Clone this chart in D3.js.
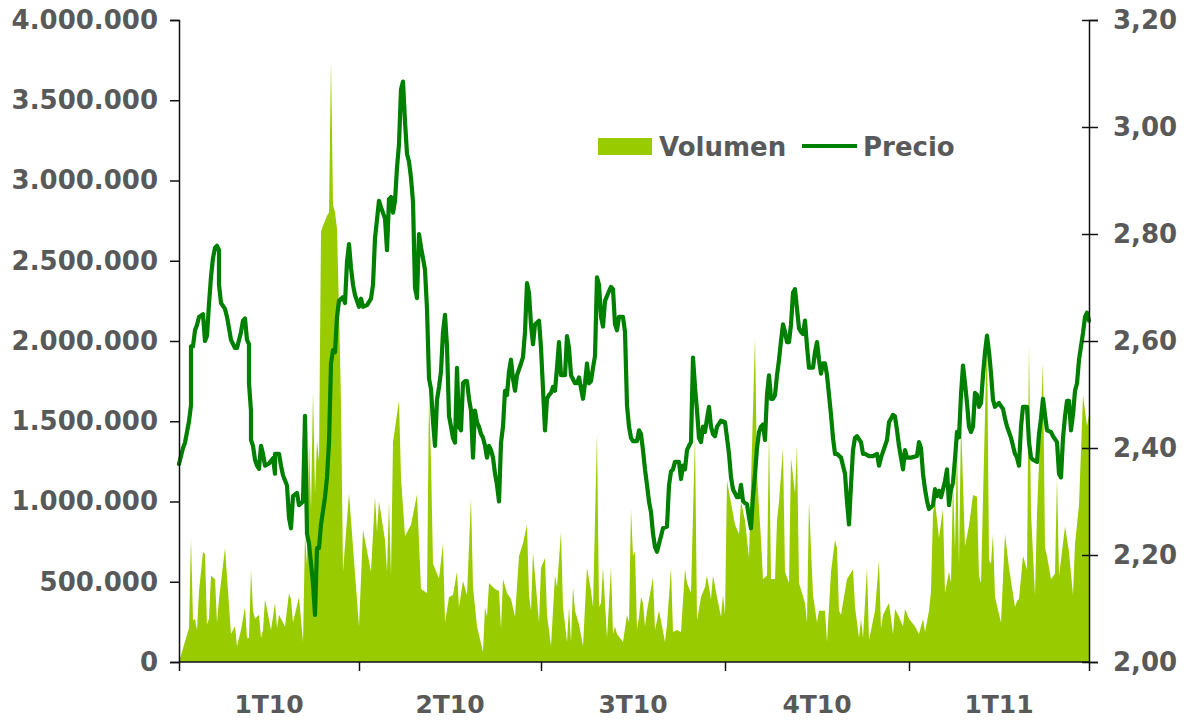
<!DOCTYPE html>
<html><head><meta charset="utf-8">
<script src="https://cdn.jsdelivr.net/npm/d3@7"></script>
<style>
html,body{margin:0;padding:0;background:#fff;}
svg{display:block;font-family:"DejaVu Sans",Verdana,sans-serif;font-weight:bold;}
</style></head>
<body>
<svg id="c" width="1186" height="720"></svg>
<script>
// Days counted from 1 Jan 2010 (calendar days); series values
const quarterLabels = ["1T10","2T10","3T10","4T10","1T11"];
const quarterStarts = [0, 90, 181, 273, 365, 455];
const volTicks = [0,500000,1000000,1500000,2000000,2500000,3000000,3500000,4000000];
const priceTicks = [2.0,2.2,2.4,2.6,2.8,3.0,3.2];
const seriesNames = ["Volumen","Precio"];

const priceDay = [0,2,3,5,6,6,7,8,9,10,12,13,14,15,16,17,18,19,20,20,21,23,24,25,26,28,29,31,32,33,34,35,35,36,36,37,38,39,40,41,42,43,45,47,48,48,50,51,52,54,55,56,57,59,60,62,
63,64,65,66,67,68,69,70,71,73,74,75,76,77,78,79,80,82,83,84,85,86,87,88,90,91,92,94,96,97,98,100,101,103,104,105,106,107,108,109,110,111,112,
113,114,115,116,117,118,119,120,121,122,123,124,125,126,127,128,129,130,131,132,133,134,135,136,137,138,139,140,141,142,143,144,145,146,147,148,149,150,151,152,153,154,155,156,157,158,159,160,161,162,163,164,165,166,167,168,169,171,
172,173,174,175,176,177,178,180,181,182,183,184,185,186,187,188,189,190,191,193,194,195,196,198,199,200,202,203,204,205,206,207,208,209,210,211,212,213,215,216,217,218,219,220,222,223,224,225,226,227,229,
230,231,232,233,234,235,236,237,238,239,240,241,242,244,245,246,247,248,250,251,252,253,254,255,256,257,258,259,260,261,262,263,264,265,266,267,268,269,271,273,274,275,276,277,279,280,281,282,283,
284,285,286,287,288,289,290,291,292,293,294,295,296,297,298,299,300,301,302,303,304,305,306,307,308,309,310,311,312,313,314,315,317,318,319,320,321,322,323,324,325,326,327,328,329,331,332,333,334,335,336,337,338,339,341,342,
343,345,347,349,350,351,353,354,355,357,358,359,360,361,362,363,364,366,369,370,371,372,373,374,375,377,378,379,380,381,382,383,384,385,386,387,388,389,390,391,392,393,394,395,396,397,398,399,
400,401,402,403,404,405,406,407,408,410,412,413,414,415,416,417,418,419,420,421,422,424,425,426,427,429,430,431,432,433,434,436,437,439,440,441,442,443,444,445,446,447,448,449,450,451,452,453,454,455];
const priceVal = [2.37,2.40,2.41,2.45,2.48,2.59,2.59,2.62,2.63,2.645,2.65,2.60,2.61,2.67,2.72,2.755,2.774,2.778,2.77,2.705,2.671,2.66,2.645,2.624,2.602,2.587,2.587,2.617,2.638,2.642,2.602,2.594,2.521,2.469,2.415,2.404,2.378,2.367,2.361,2.404,2.389,2.367,2.371,2.381,2.352,2.389,2.389,2.367,2.349,2.33,2.27,2.25,2.31,2.316,2.293,2.30,
2.46,2.24,2.221,2.184,2.147,2.088,2.213,2.213,2.257,2.308,2.345,2.411,2.558,2.583,2.579,2.645,2.675,2.682,2.671,2.748,2.781,2.737,2.705,2.686,2.664,2.679,2.664,2.667,2.679,2.705,2.792,2.862,2.85,2.829,2.77,2.865,2.869,2.84,2.862,2.924,2.968,3.07,3.085,
3.01,2.95,2.935,2.905,2.86,2.70,2.68,2.80,2.775,2.755,2.733,2.66,2.53,2.51,2.45,2.404,2.49,2.514,2.543,2.617,2.649,2.59,2.46,2.44,2.419,2.41,2.55,2.44,2.433,2.521,2.525,2.525,2.492,2.47,2.382,2.47,2.448,2.44,2.426,2.419,2.404,2.382,2.404,2.396,2.382,2.352,2.331,2.30,2.41,2.44,2.507,2.499,2.543,2.565,2.529,2.507,2.536,2.558,
2.57,2.617,2.708,2.69,2.63,2.594,2.631,2.638,2.587,2.51,2.433,2.492,2.499,2.503,2.514,2.507,2.55,2.598,2.536,2.536,2.609,2.587,2.536,2.521,2.521,2.532,2.492,2.521,2.558,2.521,2.525,2.55,2.572,2.719,2.705,2.645,2.627,2.675,2.693,2.701,2.697,2.631,2.62,2.645,2.645,2.617,2.48,2.44,2.419,2.413,2.413,
2.433,2.426,2.396,2.36,2.331,2.30,2.28,2.24,2.215,2.206,2.221,2.235,2.25,2.253,2.33,2.356,2.36,2.374,2.374,2.342,2.367,2.36,2.396,2.404,2.411,2.569,2.514,2.47,2.419,2.411,2.44,2.43,2.455,2.477,2.44,2.426,2.422,2.44,2.451,2.448,2.419,2.389,2.345,2.323,2.308,2.308,2.331,2.301,2.297,
2.295,2.27,2.25,2.31,2.35,2.40,2.43,2.44,2.444,2.415,2.50,2.536,2.492,2.492,2.499,2.536,2.565,2.60,2.631,2.617,2.598,2.598,2.631,2.69,2.697,2.66,2.624,2.617,2.613,2.638,2.59,2.55,2.55,2.579,2.598,2.565,2.539,2.558,2.558,2.536,2.499,2.462,2.419,2.389,2.389,2.382,2.367,2.352,2.30,2.257,2.331,2.396,2.419,2.422,2.411,2.389,
2.389,2.385,2.385,2.389,2.367,2.382,2.404,2.415,2.448,2.462,2.459,2.433,2.404,2.382,2.36,2.396,2.382,2.382,2.385,2.411,2.40,2.352,2.323,2.301,2.286,2.293,2.323,2.31,2.32,2.308,2.323,2.338,2.36,2.293,2.323,2.335,2.38,2.43,2.42,2.50,2.554,2.521,2.484,2.44,2.43,2.44,2.503,2.499,
2.477,2.484,2.536,2.579,2.61,2.58,2.54,2.49,2.477,2.484,2.473,2.455,2.44,2.43,2.419,2.404,2.389,2.382,2.367,2.44,2.477,2.477,2.411,2.382,2.378,2.374,2.426,2.455,2.492,2.462,2.433,2.43,2.422,2.411,2.352,2.345,2.419,2.459,2.488,2.488,2.433,2.462,2.507,2.521,2.565,2.59,2.615,2.645,2.653,2.638];

const volDay = [0,5,6,7,8,9,10,12,13,14,15,16,18,19,20,23,26,27,28,29,31,33,34,35,36,37,38,40,41,42,43,46,48,49,50,53,55,56,57,60,62,63,64,65,66,67,68,69,70,71,72,73,74,75,76,77,78,79,80,81,82,85,90,92,96,98,99,100,103,104,105,106,107,110,111,113,116,119,121,124,125,126,127,130,132,133,135,137,139,140,142,144,146,147,149,152,153,154,155,158,160,161,162,164,166,168,170,172,174,175,176,177,180,181,183,184,186,188,189,191,192,194,195,196,197,198,200,202,204,206,207,209,210,211,212,214,216,217,218,219,222,224,225,226,227,228,229,230,231,232,233,234,237,238,240,243,244,246,247,249,251,253,254,256,258,259,261,263,264,266,267,269,271,272,273,274,276,278,280,281,283,285,286,288,289,291,292,294,295,296,298,299,300,302,303,305,306,308,309,310,313,314,315,317,319,320,323,324,326,328,329,330,331,334,337,338,340,341,342,344,345,348,350,351,352,355,357,358,360,362,363,365,368,370,372,373,375,376,377,378,380,382,383,385,386,387,388,389,390,391,393,395,397,399,400,401,402,404,405,406,407,408,411,413,415,418,419,420,422,424,425,426,428,429,432,433,434,436,438,439,440,441,443,445,447,448,450,452,454,455];
const volVal = [0,212000,773000,258000,270000,199000,442000,685000,673000,234000,270000,539000,515000,246000,393000,710000,174000,199000,221000,100000,199000,343000,150000,150000,576000,319000,270000,295000,150000,199000,393000,199000,368000,212000,295000,221000,430000,390000,246000,405000,125000,790000,600000,1380000,950000,1690000,1050000,1380000,1250000,2680000,2720000,2750000,2780000,2800000,3750000,2850000,2800000,2700000,2200000,1620000,563000,1050000,221000,822000,563000,1030000,810000,1000000,760000,563000,1000000,540000,1370000,1630000,1150000,785000,855000,1045000,455000,430000,1660000,1250000,612000,520000,735000,246000,405000,417000,563000,343000,505000,417000,1020000,467000,221000,62000,343000,282000,492000,455000,442000,209000,517000,430000,393000,282000,660000,740000,857000,417000,319000,685000,246000,588000,648000,295000,100000,539000,467000,810000,343000,125000,343000,125000,467000,319000,234000,100000,588000,442000,343000,1420000,343000,368000,588000,150000,588000,174000,221000,174000,125000,295000,246000,953000,660000,690000,199000,282000,405000,368000,221000,319000,527000,199000,319000,125000,234000,588000,187000,199000,187000,576000,492000,430000,1410000,258000,405000,467000,539000,393000,539000,405000,282000,417000,295000,1130000,990000,857000,797000,1000000,880000,650000,1130000,2020000,1170000,760000,517000,539000,1430000,517000,517000,880000,1000000,1330000,563000,492000,1270000,1050000,1350000,492000,368000,246000,1000000,417000,246000,319000,319000,125000,563000,760000,710000,319000,295000,517000,576000,343000,150000,270000,150000,588000,137000,319000,635000,209000,295000,368000,174000,330000,282000,221000,330000,270000,221000,174000,270000,187000,319000,442000,930000,1000000,773000,955000,430000,563000,492000,1130000,700000,1370000,600000,1500000,723000,850000,1040000,1030000,539000,492000,1020000,2060000,635000,612000,797000,405000,246000,797000,588000,343000,380000,393000,660000,576000,1980000,930000,417000,930000,1860000,710000,660000,517000,551000,1150000,539000,635000,844000,685000,417000,735000,978000,1660000,1470000,1540000];

const price = priceDay.map((d,i)=>({d, v: priceVal[i]}));
const vol = volDay.map((d,i)=>({d, v: volVal[i]}));

const svg = d3.select("#c");
const L = 179, R = 1089, T = 20, B = 662;
const x = d3.scaleLinear().domain([0,455]).range([L,R]);
const yL = d3.scaleLinear().domain([0,4000000]).range([B,T]);
const yR = d3.scaleLinear().domain([2,3.2]).range([B,T]);

const loc = d3.formatLocale({decimal:",", thousands:".", grouping:[3], currency:["","€"]});
const fmtVol = loc.format(",");
const fmtPrice = loc.format(".2f");

const volColor = "#99CC00", priceColor = "#008000", textColor = "#595959";

svg.append("path").datum(vol)
  .attr("fill", volColor)
  .attr("d", d3.area().x(p=>x(p.d)).y0(B).y1(p=>yL(p.v)));

svg.append("path").datum(price)
  .attr("fill","none").attr("stroke",priceColor).attr("stroke-width",4.2)
  .attr("stroke-linejoin","round").attr("stroke-linecap","round")
  .attr("d", d3.line().x(p=>x(p.d)).y(p=>yR(p.v)));

// left axis
const gl = svg.append("g").attr("transform",`translate(${L},0)`)
  .call(d3.axisLeft(yL).tickValues(volTicks).tickFormat(fmtVol).tickSize(9).tickPadding(12));
// right axis
const gr = svg.append("g").attr("transform",`translate(${R},0)`)
  .call(d3.axisRight(yR).tickValues(priceTicks).tickFormat(fmtPrice).tickSize(9).tickPadding(15));
gr.selectAll(".tick line").attr("x1",-7);
// bottom axis
const gb = svg.append("g").attr("transform",`translate(0,${B})`)
  .call(d3.axisBottom(x).tickValues(quarterStarts).tickFormat("").tickSize(9));

[gl,gr,gb].forEach(g=>{
  g.select(".domain").attr("stroke","#111").attr("stroke-width",1.5);
  g.selectAll(".tick line").attr("stroke","#111").attr("stroke-width",1.5);
  g.selectAll(".tick text").attr("fill",textColor).style("font-size","26px")
   .style("font-family",'"DejaVu Sans",Verdana,sans-serif').style("font-weight","bold");
});
gb.select(".domain").attr("d",`M${L},0H${R}`);

svg.append("g").selectAll("text").data(quarterLabels).join("text")
  .attr("x",(d,i)=>x((quarterStarts[i]+quarterStarts[i+1])/2))
  .attr("y",713).attr("text-anchor","middle")
  .attr("fill",textColor).style("font-size","25px").text(d=>d);

// legend
const lg = svg.append("g");
lg.append("rect").attr("x",598).attr("y",138).attr("width",54).attr("height",17).attr("fill",volColor);
lg.append("text").attr("x",659).attr("y",156).attr("fill",textColor).style("font-size","26px").text(seriesNames[0]);
lg.append("line").attr("x1",802).attr("x2",857).attr("y1",146).attr("y2",146).attr("stroke",priceColor).attr("stroke-width",4);
lg.append("text").attr("x",863).attr("y",156).attr("fill",textColor).style("font-size","26px").text(seriesNames[1]);
</script>
</body></html>
